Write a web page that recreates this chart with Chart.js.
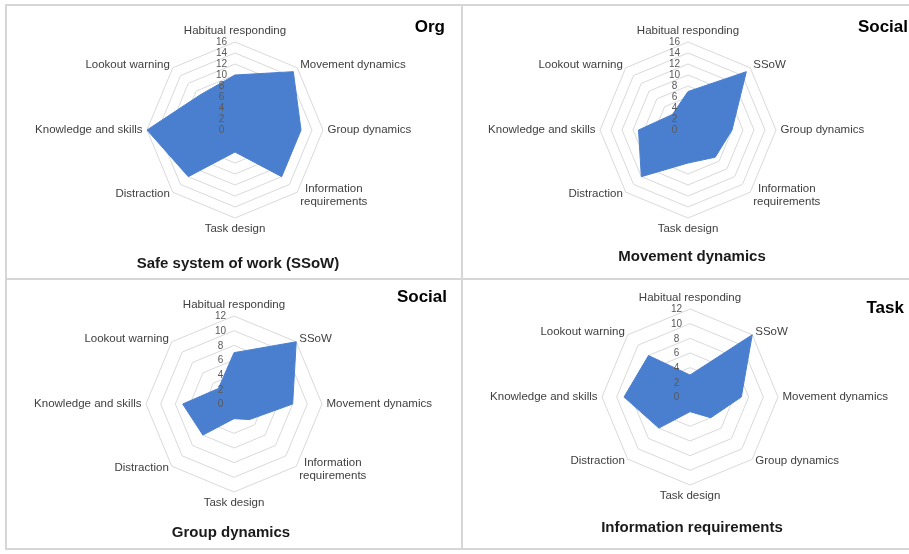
<!DOCTYPE html>
<html>
<head>
<meta charset="utf-8">
<script src="https://cdn.jsdelivr.net/npm/chart.js@4"></script>
<style>
  html, body { margin: 0; padding: 0; background: #fff; }
  body { width: 909px; height: 554px; position: relative; overflow: hidden; font-family: "Liberation Sans", Arial, sans-serif; }
  canvas { position: absolute; left: 0; top: 0; }
  .rule { position: absolute; background: #d6d6d6; }
  .title { position: absolute; font-weight: bold; font-size: 15px; color: #1a1a1a; transform: translate(-50%, -50%); white-space: nowrap; }
  .group { position: absolute; font-family: "Liberation Sans Narrow", "Liberation Sans", Arial, sans-serif; font-weight: bold; font-size: 17px; color: #000; transform: translate(-100%, -50%); white-space: nowrap; }
</style>
</head>
<body>
<div class="rule" style="left:5px;top:4px;width:2px;height:546px"></div>
<div class="rule" style="left:5px;top:4px;width:904px;height:2px"></div>
<div class="rule" style="left:5px;top:548px;width:904px;height:2px"></div>
<div class="rule" style="left:461px;top:4px;width:2px;height:546px"></div>
<div class="rule" style="left:5px;top:278px;width:904px;height:2px"></div>

<canvas id="c1" width="909" height="554"></canvas>
<canvas id="c2" width="909" height="554"></canvas>
<canvas id="c3" width="909" height="554"></canvas>
<canvas id="c4" width="909" height="554"></canvas>

<div class="title" style="left:238px;top:262px">Safe system of work (SSoW)</div>
<div class="title" style="left:692px;top:255px">Movement dynamics</div>
<div class="title" style="left:231px;top:531px">Group dynamics</div>
<div class="title" style="left:692px;top:526px">Information requirements</div>

<div class="group" style="left:445px;top:27px">Org</div>
<div class="group" style="left:908px;top:27px">Social</div>
<div class="group" style="left:447px;top:297px">Social</div>
<div class="group" style="left:904px;top:308px">Task</div>

<script>
// Axis categories for each radar (clockwise from the top)
const ssowAxes = ['Habitual responding', 'Movement dynamics', 'Group dynamics', ['Information', 'requirements'], 'Task design', 'Distraction', 'Knowledge and skills', 'Lookout warning'];
const movementAxes = ['Habitual responding', 'SSoW', 'Group dynamics', ['Information', 'requirements'], 'Task design', 'Distraction', 'Knowledge and skills', 'Lookout warning'];
const groupAxes = ['Habitual responding', 'SSoW', 'Movement dynamics', ['Information', 'requirements'], 'Task design', 'Distraction', 'Knowledge and skills', 'Lookout warning'];
const infoAxes = ['Habitual responding', 'SSoW', 'Movement dynamics', 'Group dynamics', 'Task design', 'Distraction', 'Knowledge and skills', 'Lookout warning'];

// Scores per axis
const ssowScores = [10, 15, 12, 12, 4, 12, 16, 9];
const movementScores = [7, 15, 8, 7, 6, 12, 9, 4];
const groupScores = [7, 12, 8, 3, 2, 6, 7, 3];
const infoScores = [3, 12, 7, 4, 2, 6, 9, 8];

// Scale ranges
const ssowMax = 16, movementMax = 16, groupMax = 12, infoMax = 12;
const tickStep = 2;

const FILL = 'rgb(74,127,208)';
const RADIUS = 88;

// Draws the category labels around the web and the value ticks beside the vertical axis
const radarText = {
  id: 'radarText',
  afterDatasetsDraw(chart) {
    const s = chart.scales.r;
    const ctx = chart.ctx;
    const cx = s.xCenter, cy = s.yCenter, R = s.drawingArea;
    ctx.save();

    // value ticks
    ctx.font = '10px "Liberation Sans", Arial, sans-serif';
    ctx.fillStyle = '#595959';
    ctx.textAlign = 'center';
    ctx.textBaseline = 'middle';
    s.ticks.forEach(t => {
      const d = s.getDistanceFromCenterForValue(t.value);
      ctx.fillText(String(t.value), cx - 13.5, cy - d + 0.5);
    });

    // category labels
    ctx.font = '11.5px "Liberation Sans", Arial, sans-serif';
    ctx.fillStyle = '#404040';
    const labels = chart.data.labels;
    const lh = 13.5;
    labels.forEach((lab, i) => {
      const lines = Array.isArray(lab) ? lab : [lab];
      const p = s.getPointPosition(i, R);
      const widths = lines.map(l => ctx.measureText(l).width);
      const bw = Math.max(...widths);
      let left, yc;
      switch (i) {
        case 0: left = cx - bw / 2; yc = cy - R - 11; break;
        case 4: left = cx - bw / 2; yc = cy + R + 11; break;
        case 2: left = cx + R + 4.5; yc = cy; break;
        case 6: left = cx - R - 4.5 - bw; yc = cy; break;
        case 1: left = p.x + 3; yc = p.y - 3; break;
        case 7: left = p.x - 3 - bw; yc = p.y - 3; break;
        case 3: left = p.x + 3; yc = p.y + (lines.length > 1 ? 3 : 2); break;
        case 5: left = p.x - 3 - bw; yc = p.y + 2; break;
      }
      const top = yc - (lines.length - 1) * lh / 2;
      ctx.textAlign = 'center';
      ctx.textBaseline = 'middle';
      lines.forEach((l, k) => ctx.fillText(l, left + bw / 2, top + k * lh));
    });
    ctx.restore();
  }
};

function radar(id, axes, scores, max, cx, cy) {
  new Chart(document.getElementById(id), {
    type: 'radar',
    data: {
      labels: axes,
      datasets: [{
        data: scores,
        backgroundColor: FILL,
        borderColor: FILL,
        borderWidth: 1,
        pointRadius: 0,
        fill: true,
        tension: 0
      }]
    },
    options: {
      responsive: false,
      animation: false,
      devicePixelRatio: 1,
      events: [],
      layout: {
        padding: { left: cx - RADIUS, top: cy - RADIUS, right: 909 - cx - RADIUS, bottom: 554 - cy - RADIUS }
      },
      plugins: { legend: { display: false }, tooltip: { enabled: false } },
      scales: {
        r: {
          min: 0,
          max: max,
          ticks: { stepSize: tickStep, display: false },
          pointLabels: { display: false },
          angleLines: { display: false },
          grid: { color: '#d9d9d9', lineWidth: 1 }
        }
      }
    },
    plugins: [radarText]
  });
}

radar('c1', ssowAxes, ssowScores, ssowMax, 235, 130);
radar('c2', movementAxes, movementScores, movementMax, 688, 130);
radar('c3', groupAxes, groupScores, groupMax, 234, 404);
radar('c4', infoAxes, infoScores, infoMax, 690, 397);
</script>
</body>
</html>
